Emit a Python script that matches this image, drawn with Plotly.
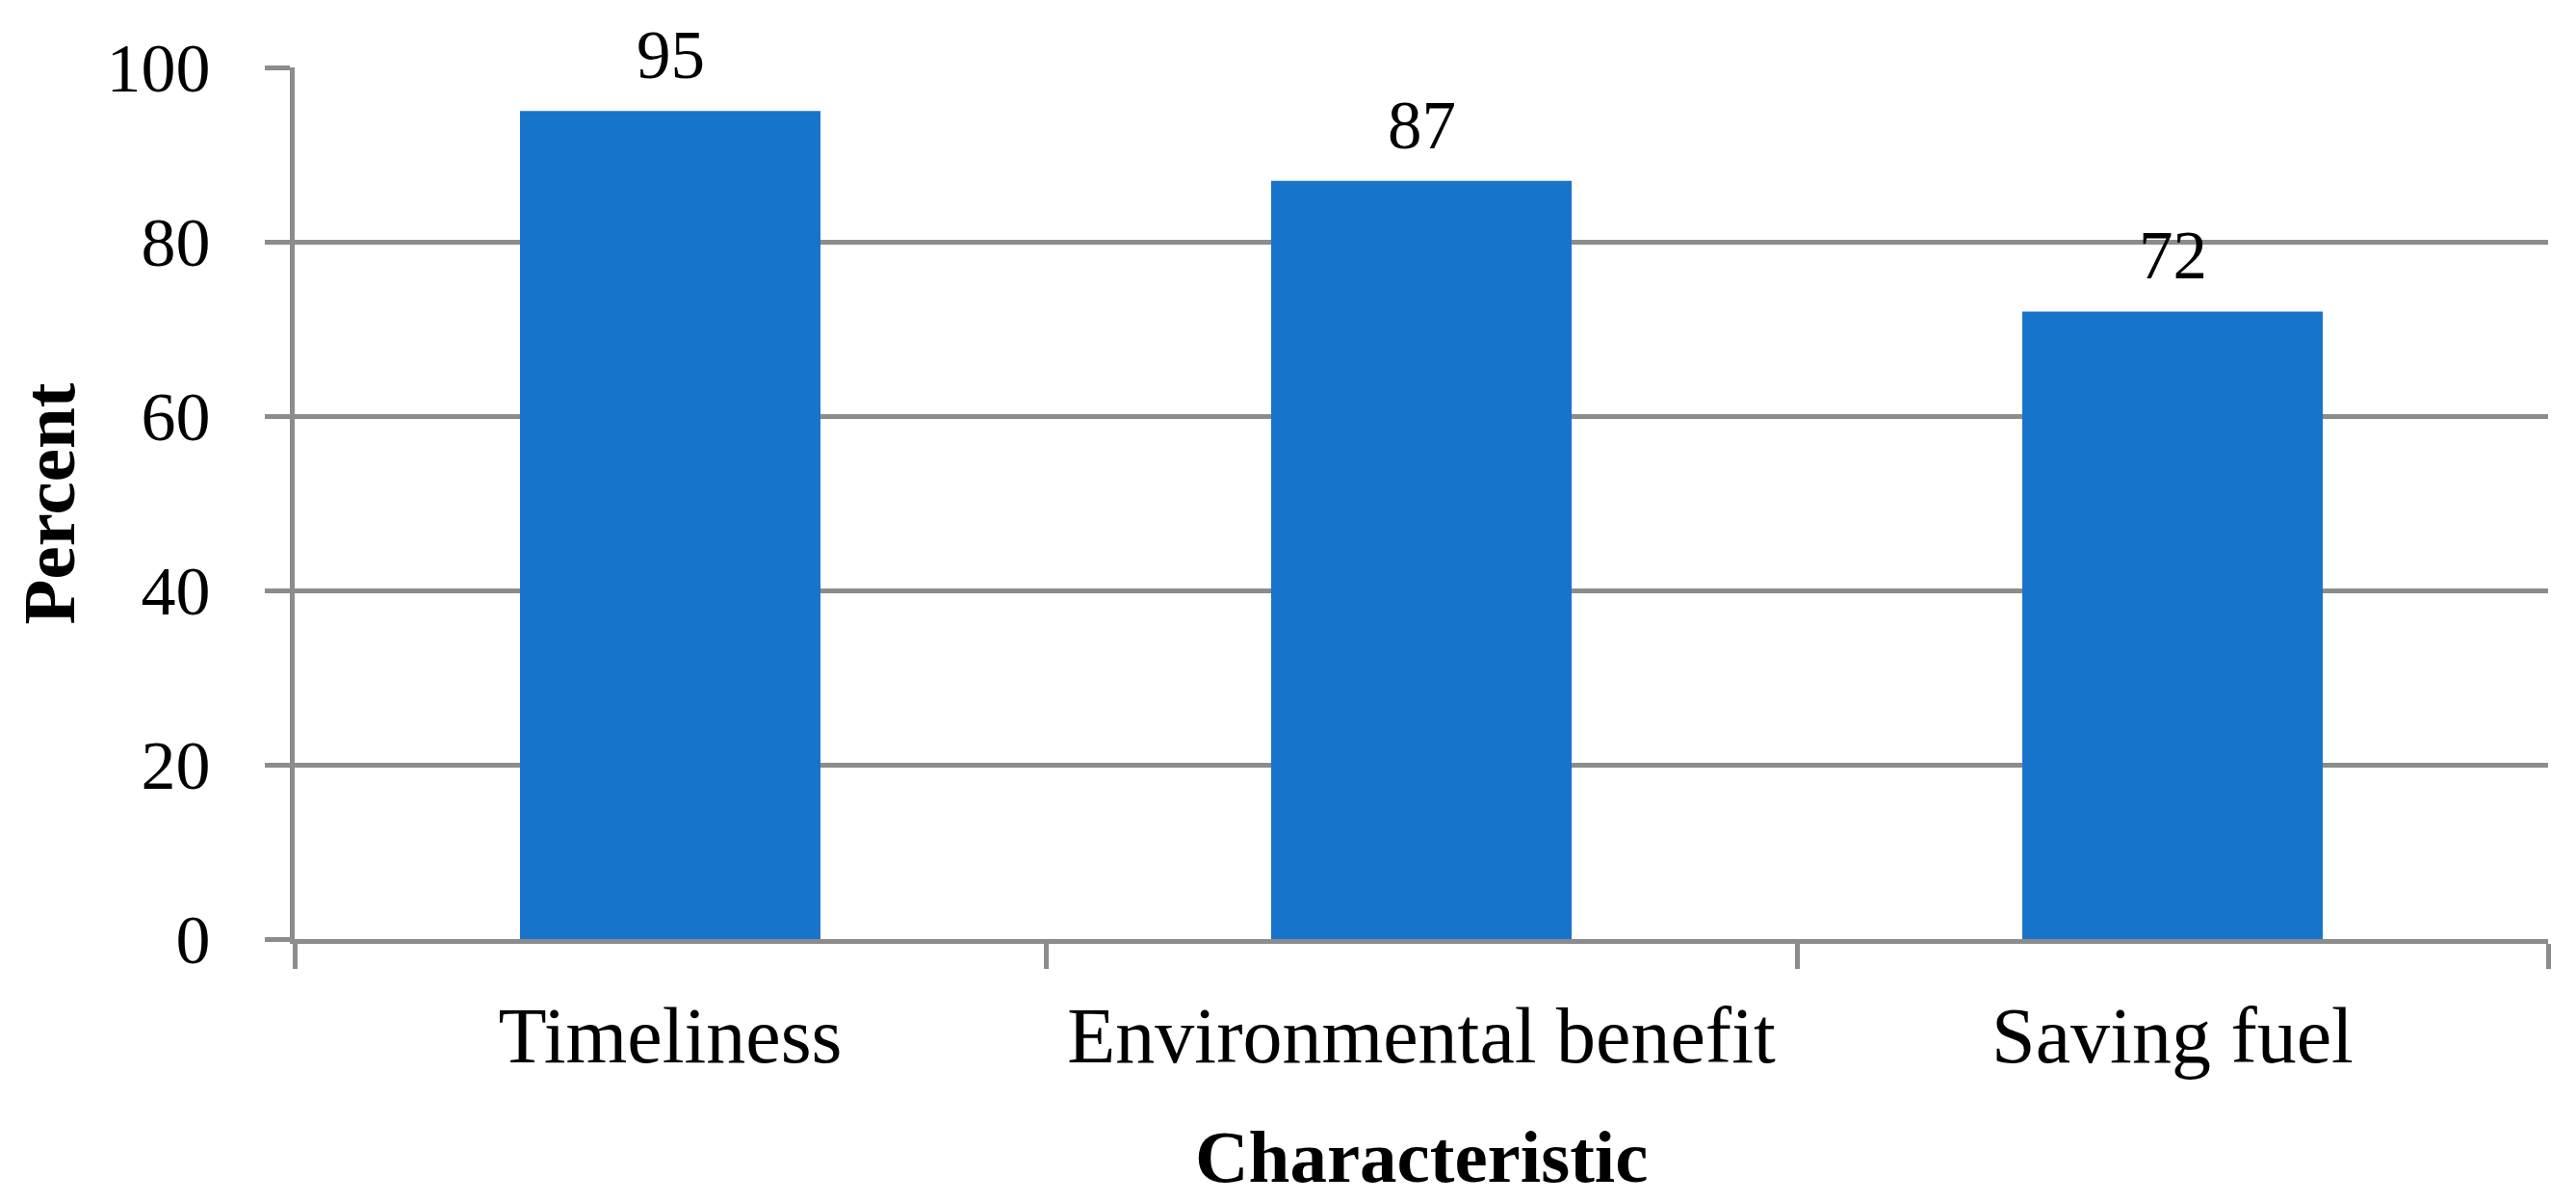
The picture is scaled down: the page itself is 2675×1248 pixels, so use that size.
import plotly.graph_objects as go

categories = ["Timeliness", "Environmental benefit", "Saving fuel"]
percent = [95, 87, 72]
y_ticks = [0, 20, 40, 60, 80, 100]

GRAY = "#8C8C8C"
BLUE = "#1874CA"
FONT = "Liberation Serif"

fig = go.Figure()
fig.add_trace(go.Bar(x=categories, y=percent, marker=dict(color=BLUE, line=dict(width=0)),
                     showlegend=False, hoverinfo="x+y"))

for c, v in zip(categories, percent):
    fig.add_annotation(x=c, y=v, text=str(v), showarrow=False, xref="x", yref="y",
                       yanchor="bottom", yshift=18, borderpad=0,
                       font=dict(family=FONT, size=71, color="black"))

fig.add_annotation(text="<b>Percent</b>", xref="paper", yref="paper", x=-0.109, y=0.5,
                   textangle=-90, showarrow=False, xanchor="center", yanchor="middle",
                   font=dict(family=FONT, size=77, color="black"))
fig.add_annotation(text="<b>Characteristic</b>", xref="paper", yref="paper", x=0.5, y=-0.25,
                   showarrow=False, xanchor="center", yanchor="middle",
                   font=dict(family=FONT, size=77, color="black"))

fig.update_layout(
    width=2667, height=1240,
    margin=dict(l=298, r=29, t=62, b=273, autoexpand=False),
    paper_bgcolor="white", plot_bgcolor="white",
    bargap=0.6,
    font=dict(family=FONT, color="black"),
)
fig.update_xaxes(
    type="category", tickson="boundaries", ticks="outside", ticklen=26, tickwidth=5,
    tickcolor=GRAY, showline=True, linecolor=GRAY, linewidth=5, showgrid=False,
    tickfont=dict(family=FONT, size=82, color="black"), ticklabelstandoff=25,
    automargin=False,
)
fig.update_yaxes(
    range=[0, 100], tickvals=y_ticks, ticks="outside", ticklen=26, tickwidth=5,
    tickcolor=GRAY, showline=True, linecolor=GRAY, linewidth=5, showgrid=True,
    gridcolor=GRAY, gridwidth=5, zeroline=False,
    tickfont=dict(family=FONT, size=72, color="black"), ticklabelstandoff=42,
    automargin=False,
)

fig.write_html("out.html")
